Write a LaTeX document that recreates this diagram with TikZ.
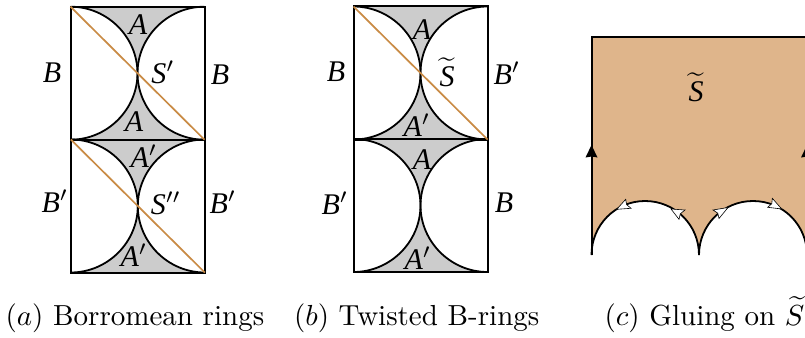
\documentclass[tikz,border=0pt]{standalone}
\usepackage{fontspec}
\newfontfamily\tmfont{Liberation Serif}
\definecolor{ringgray}{HTML}{CCCCCC}
\definecolor{diagcol}{HTML}{C98B45}
\definecolor{tanfill}{HTML}{DFB58B}
\newcommand{\tS}{$\widetilde{\mbox{\tmfont\itshape S}}$}
\newcommand{\ringcell}[2]{%
\begin{scope}[shift={(#1,#2)}]
  \fill[ringgray] (-67,-66.5) .. controls (-30,-66.5) and (0,-36) .. (0,0) .. controls (0,-36) and (30,-66.5) .. (67,-66.5) -- cycle;
  \fill[ringgray] (-67,66.5) .. controls (-30,66.5) and (0,36) .. (0,0) .. controls (0,36) and (30,66.5) .. (67,66.5) -- cycle;
  \draw[straight] (-67,-66.5) rectangle (67,66.5);
  \draw[edge] (-67,-66.5) .. controls (-30,-66.5) and (0,-36) .. (0,0) .. controls (0,36) and (-30,66.5) .. (-67,66.5);
  \draw[edge] (67,-66.5) .. controls (30,-66.5) and (0,-36) .. (0,0) .. controls (0,36) and (30,66.5) .. (67,66.5);
\end{scope}}
\tikzset{
  edge/.style={line width=1.8pt,black},
  straight/.style={line width=2pt,black},
  diag/.style={line width=1.7pt,diagcol},
  lab/.style={font=\tmfont\itshape,scale=3,transform shape,inner sep=0pt},
  capt/.style={scale=2.9,transform shape,anchor=base west,inner sep=0pt},
  whitetip/.style={fill=white,draw=black,line width=0.6pt,line join=miter},
  blacktip/.style={fill=black}
}
\begin{document}
\begin{tikzpicture}[x=1pt,y=-1pt]
\useasboundingbox (0,0) rectangle (805,337);
\clip (0,0) rectangle (805,337);
% panel (a)
\ringcell{137.5}{73.2}
\ringcell{137.8}{206}
\coordinate (a1) at (70.5,6.7); \coordinate (a2) at (204.5,139.7);
\coordinate (a3) at (70.8,139.5); \coordinate (a4) at (204.8,272.5);
\draw[diag] (a1) -- (a2);
\draw[diag] (a3) -- (a4);
\node[lab] (aB1) at (52,73) {B};
\node[lab] (aB2) at (220,75) {B};
\node[lab] (aS1) at (163,72) {S$'$};
\node[lab] (aA1) at (138,25) {A};
\node[lab] (aA2) at (134,122) {A};
\node[lab] (aA3) at (144,156) {A$'$};
\node[lab] (aB3) at (55,201) {B$'$};
\node[lab] (aS2) at (166,203) {S$''$};
\node[lab] (aB4) at (223,202) {B$'$};
\node[lab] (aA4) at (134,255) {A$'$};
% panel (b)
\ringcell{420.5}{73}
\ringcell{420.5}{205.5}
\coordinate (b1) at (353.5,6.5); \coordinate (b2) at (487.5,139.5);
\draw[diag] (b1) -- (b2);
\node[lab] (bB1) at (336,72) {B};
\node[lab] (bS) at (447,72) {\tS};
\node[lab] (bB2) at (507,73) {B$'$};
\node[lab] (bA1) at (422,30) {A};
\node[lab] (bA2) at (417,125) {A$'$};
\node[lab] (bA3) at (422,160) {A};
\node[lab] (bB3) at (335,203) {B$'$};
\node[lab] (bB4) at (504,203) {B};
\node[lab] (bA4) at (418,258) {A$'$};
% panel (c)
\coordinate (c1) at (591.5,255); \coordinate (c2) at (591.5,37.5); \coordinate (c3) at (807,37.5);
\coordinate (c4) at (807,255); \coordinate (c5) at (699,255);
\fill[tanfill] (c1) -- (c2) -- (c3) -- (c4) .. controls (807,225) and (783,201) .. (753,201) .. controls (723,201) and (699,225) .. (c5) .. controls (699,225) and (675,201) .. (645,201) .. controls (615.5,201) and (591.5,225) .. (c1) -- cycle;
\draw[straight] (c1) -- (c2) -- (c3);
\draw[straight] (c4) -- (c3);
\draw[edge] (c1) .. controls (591.5,225) and (615.5,201) .. (645,201) .. controls (675,201) and (699,225) .. (c5);
\draw[edge] (c5) .. controls (699,225) and (723,201) .. (753,201) .. controls (783,201) and (807,225) .. (c4);
\fill[blacktip] (591.5,145) -- (597.5,157.5) -- (591.5,156.5) -- (585.5,157.5) -- cycle;
\fill[blacktip] (807,145) -- (813,157.5) -- (807,156.5) -- (801,157.5) -- cycle;
\draw[whitetip] (616.7,209.3) -- (625.7,199.3) -- (626.6,204.6) -- (631,208.3) -- cycle;
\draw[whitetip] (671,209) -- (685,210) -- (680.3,213.8) -- (679,219.3) -- cycle;
\draw[whitetip] (728,207.5) -- (713,210) -- (717.8,213.2) -- (719,218.5) -- cycle;
\draw[whitetip] (781.7,209) -- (772.3,198.3) -- (771.8,203.7) -- (767.7,207.3) -- cycle;
\node[lab] (cS) at (696,87) {\tS};
% captions
\node[capt] (capa) at (5,325) {$(a)$ Borromean rings};
\node[capt] (capb) at (293.5,325) {$(b)$ Twisted B-rings};
\node[capt] (capc) at (604,325) {$(c)$ Gluing on $\widetilde{S}$};
\end{tikzpicture}
\end{document}
